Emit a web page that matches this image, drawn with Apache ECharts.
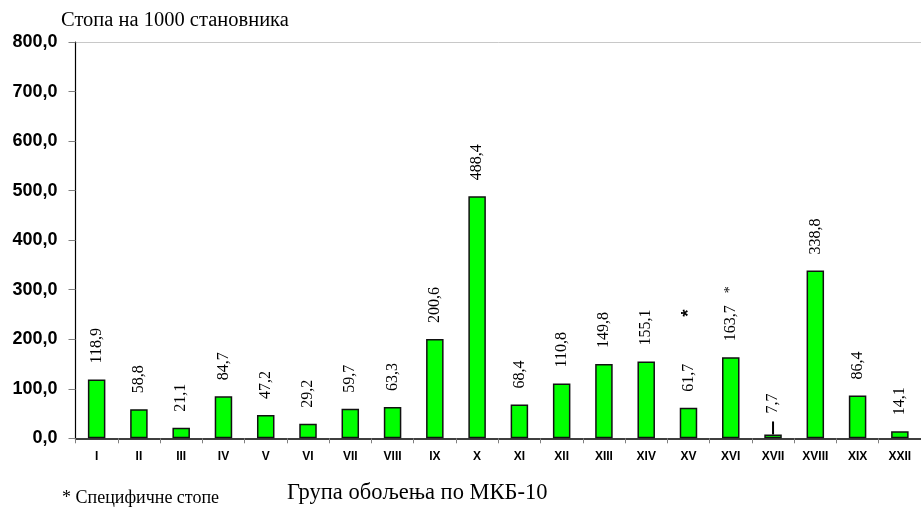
<!DOCTYPE html>
<html>
<head>
<meta charset="utf-8">
<script src="https://cdn.jsdelivr.net/npm/echarts@6/dist/echarts.min.js"></script>
<style>
  html, body { margin: 0; padding: 0; background: #fff; }
  #chart { width: 921px; height: 507px; }
</style>
</head>
<body>
<div id="chart"></div>
<script>
const categories = ['I','II','III','IV','V','VI','VII','VIII','IX','X','XI','XII','XIII','XIV','XV','XVI','XVII','XVIII','XIX','XXII'];
const rates = [118.9, 58.8, 21.1, 84.7, 47.2, 29.2, 59.7, 63.3, 200.6, 488.4, 68.4, 110.8, 149.8, 155.1, 61.7, 163.7, 7.7, 338.8, 86.4, 14.1];
const yTicks = [0, 100, 200, 300, 400, 500, 600, 700, 800];
const specificRate = ['XV', 'XVI'];
const errCategories = ['XVII'];
const errHigh = [34];

const chart = echarts.init(document.getElementById('chart'));

function fmt(v) { return v.toFixed(1).replace('.', ','); }

const barData = rates.map((v, i) => {
  const cat = categories[i];
  const item = { value: v };
  if (cat === 'XVI') {
    item.label = { formatter: fmt(v) + '{g2|}{s|*}' };
  } else if (cat === 'XV') {
    item.label = { formatter: fmt(v) + '{g|}{b|*}' };
  } else if (errCategories.indexOf(cat) >= 0) {
    item.label = { distance: 21 };
  }
  return item;
});

const errData = errCategories.map((c, k) => [categories.indexOf(c), rates[categories.indexOf(c)], errHigh[k]]);

chart.setOption({
  animation: false,
  backgroundColor: '#ffffff',
  grid: { left: 75.5, top: 42, width: 854, height: 396.3, containLabel: false },
  xAxis: {
    type: 'category',
    data: categories,
    boundaryGap: true,
    axisLine: { lineStyle: { color: '#000', width: 1.5 } },
    axisTick: { show: true, length: 5, lineStyle: { color: '#808080' } },
    axisLabel: { color: '#000', fontFamily: 'Liberation Sans', fontWeight: 'bold', fontSize: 12, margin: 12, interval: 0 },
    splitLine: { show: false }
  },
  yAxis: {
    type: 'value',
    min: yTicks[0],
    max: yTicks[yTicks.length - 1],
    interval: 100,
    axisLine: { show: true, lineStyle: { color: '#000', width: 1.2 } },
    axisTick: { show: true, length: 7, lineStyle: { color: '#808080' } },
    axisLabel: { color: '#000', fontFamily: 'Liberation Sans', fontWeight: 'bold', fontSize: 18, margin: 18, formatter: v => fmt(v) },
    splitLine: { show: true, lineStyle: { color: ['transparent','transparent','transparent','transparent','transparent','transparent','transparent','transparent','#c8c8c8'], width: 1 } }
  },
  series: [
    {
      type: 'bar',
      data: barData,
      barWidth: 17.5,
      itemStyle: { color: '#00ff00', borderColor: '#111', borderWidth: 1.5 },
      label: {
        show: true,
        position: 'top',
        rotate: 90,
        align: 'left',
        verticalAlign: 'middle',
        distance: 16,
        color: '#000',
        fontFamily: 'Liberation Serif',
        fontSize: 16,
        formatter: p => fmt(p.value),
        rich: {
          s: { fontFamily: 'Liberation Serif', fontSize: 14, color: '#000' },
          g: { width: 47 },
          g2: { width: 12 },
          b: { fontFamily: 'Liberation Sans', fontWeight: 'bold', fontSize: 19, color: '#000' }
        }
      },
      z: 2
    },
    {
      type: 'custom',
      data: errData,
      renderItem: function (params, api) {
        const p0 = api.coord([api.value(0), api.value(1)]);
        const p1 = api.coord([api.value(0), api.value(2)]);
        return { type: 'line', shape: { x1: p0[0], y1: p0[1], x2: p1[0], y2: p1[1] }, style: { stroke: '#000', lineWidth: 2 } };
      },
      z: 3
    }
  ],
  graphic: [
    { type: 'text', left: 61, top: 10, style: { text: 'Стопа на 1000 становника', font: '20.5px "Liberation Serif"', fill: '#000' } },
    { type: 'text', left: 62, top: 489, style: { text: '* Специфичне стопе', font: '18px "Liberation Serif"', fill: '#000' } },
    { type: 'text', left: 287, top: 482, style: { text: 'Група обољења по МКБ-10', font: '22.5px "Liberation Serif"', fill: '#000' } }
  ]
});
</script>
</body>
</html>
